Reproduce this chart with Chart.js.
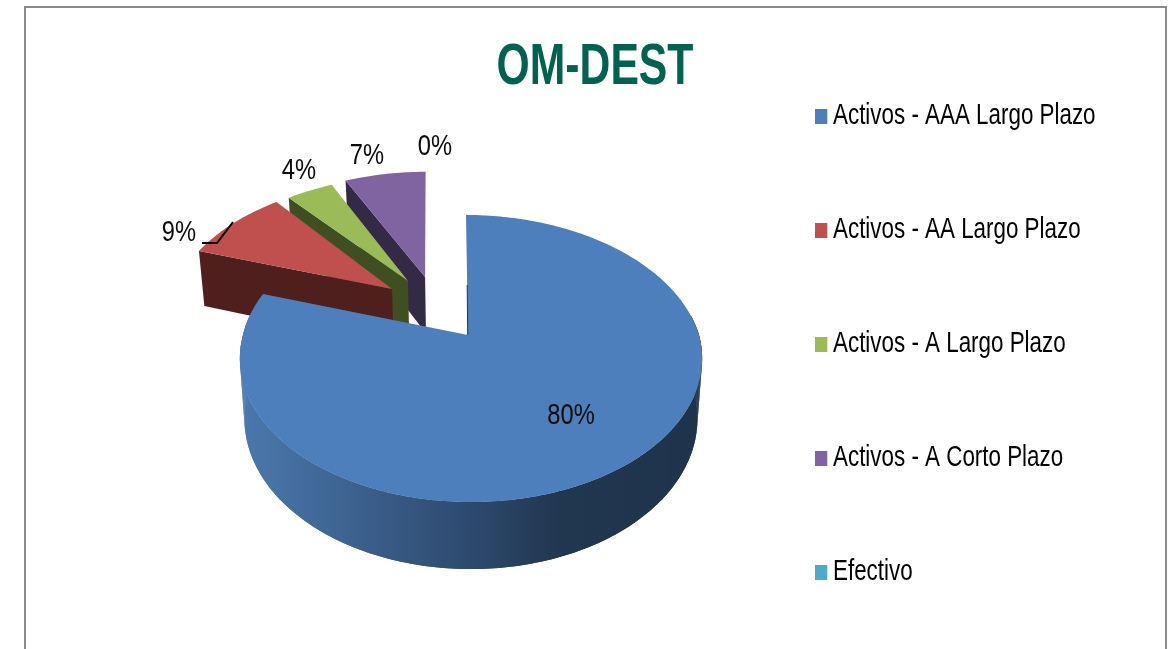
<!DOCTYPE html>
<html><head><meta charset="utf-8">
<script src="https://cdn.jsdelivr.net/npm/chart.js@4/dist/chart.umd.js"></script>
<style>
html,body{margin:0;padding:0;background:#fff;overflow:hidden;width:1168px;height:649px}
#frame{position:absolute;left:24px;top:6px;width:1139px;height:800px;border:2.5px solid #8a8a8a;box-sizing:content-box}
#c{position:absolute;left:26px;top:0;filter:blur(0.45px)}
</style></head><body>
<div id="frame"></div>
<canvas id="c" width="1138" height="900" style="width:1138px;height:900px"></canvas>
<script>
const categories = ['Activos - AAA Largo Plazo','Activos - AA Largo Plazo','Activos - A Largo Plazo','Activos - A Corto Plazo','Efectivo'];
const seriesValues = [80, 9, 4, 7, 0];
const titleText = 'OM-DEST';
const faceColors = ['#4c7fbc','#c0504d','#9bbb59','#8064a2','#4bacc6'];
const wallColors = [null,'#4f1f1d','#3f4f22','#352a45','#2a6070'];
const explode = [[0,0],[-0.358,-0.358],[-0.30,-0.40],[-0.23,-0.445],[0,0]];
const apexExplode = [[0,0],[-0.352,-0.348],[-0.281,-0.413],[-0.202,-0.445],[0,0]];
const labelAt = [[545,415.5],[153,233],[273,171],[341,156],[409,147]];
const leader = [[176,243],[191,243],[207,222]];
const FONT = '"Liberation Sans",sans-serif';
const SX_LEGEND = 0.772, SX_TITLE = 0.749, SX_LABEL = 0.79;

const P = {ax:442, ay:335, R:228, A:139.7, B:0.164};
function proj(theta, r, d, warp){
  const u = Math.sin(theta)*r + d[0], v = -Math.cos(theta)*r + d[1];
  const w = 1/(1-P.B*v);
  let x = P.ax + P.R*u*w;
  const y = P.ay + P.A*v*w;
  if(warp && r>0){ const c = Math.max(0,Math.cos(theta)); x += -2*c + 3*(1-c); }
  return {x, y, bx: P.ax+(x-P.ax)*0.98, by: y+59+40.5*(w-1)};
}
function boxImage(color){
  const c = document.createElement('canvas'); c.width = 18; c.height = 15;
  const g = c.getContext('2d'); g.fillStyle = color; g.fillRect(0,0,16.2,15);
  return c;
}
function squeeze(box, X, sx){
  if(!box || box._squeezed) return;
  const orig = box.draw.bind(box);
  box.draw = function(a){
    const ctx = box.ctx;
    ctx.save(); ctx.translate(X,0); ctx.scale(sx,1); ctx.translate(-X,0);
    orig(a);
    ctx.restore();
  };
  box._squeezed = true;
}
const pie3d = {
  id:'pie3d',
  afterLayout(chart){
    const l = chart.legend, pad = l.options.labels.padding;
    const itemX = 795.8;
    const left = itemX-pad, top = 116-14.5-pad;
    const w = l.width, h = l.height;
    l.left = left; l.top = top; l.right = left+w; l.bottom = top+h;
    squeeze(l, itemX, SX_LEGEND);
    squeeze(chart.titleBlock, chart.width/2, SX_TITLE);
  },
  beforeDatasetsDraw(chart){
    const ctx = chart.ctx, meta = chart.getDatasetMeta(0);
    const grad = ctx.createLinearGradient(219,0,661,0);
    grad.addColorStop(0,'#4a78ac'); grad.addColorStop(0.25,'#3c618e');
    grad.addColorStop(0.48,'#2f4c72'); grad.addColorStop(0.72,'#21364f'); grad.addColorStop(1,'#1f334c');
    for(let i = meta.data.length-1; i>=0; i--){
      const el = meta.data[i];
      if(!(el.endAngle-el.startAngle>0)) continue;
      const s = el.startAngle+Math.PI/2, e = el.endAngle+Math.PI/2;
      const d = explode[i], warp = i===0;
      const apex = proj(s,0,apexExplode[i],warp), rim = [];
      const n = Math.max(6,Math.round((e-s)/(Math.PI/180)));
      for(let k=0;k<=n;k++) rim.push(proj(s+(e-s)*k/n,1,d,warp));
      ctx.save();
      if(wallColors[i]){
        // the cut face turned towards the viewer
        ctx.fillStyle = wallColors[i];
        ctx.beginPath(); ctx.moveTo(apex.x,apex.y); ctx.lineTo(rim[0].x,rim[0].y);
        ctx.lineTo(rim[0].bx,rim[0].by); ctx.lineTo(apex.bx,apex.by); ctx.closePath(); ctx.fill();
      } else {
        // the outer wall of the slice that stays in place: only its front part shows
        const front = rim.filter(p=>p.y>apex.y-20);
        ctx.fillStyle = grad;
        ctx.beginPath();
        front.forEach((p,k)=> k? ctx.lineTo(p.x,p.y): ctx.moveTo(p.x,p.y));
        for(let k=front.length-1;k>=0;k--) ctx.lineTo(front[k].bx,front[k].by);
        ctx.closePath(); ctx.fill();
        // side wedges, where the outline is the tangent between top and bottom rim
        for(let k=0;k<front.length-1;k++){
          const a=front[k], b=front[k+1];
          ctx.beginPath(); ctx.moveTo(a.x,a.y); ctx.lineTo(b.x,b.y); ctx.lineTo(b.bx,b.by); ctx.lineTo(a.bx,a.by);
          ctx.closePath(); ctx.fill();
        }
      }
      ctx.beginPath(); ctx.moveTo(apex.x,apex.y);
      rim.forEach(p=>ctx.lineTo(p.x,p.y));
      ctx.closePath();
      ctx.fillStyle = el.options.backgroundColor; ctx.fill();
      if(!wallColors[i]){
        ctx.strokeStyle='#1f334c'; ctx.lineWidth=1;
        ctx.beginPath(); ctx.moveTo(apex.x-0.3,apex.y); ctx.lineTo(apex.x-0.8,apex.y-50); ctx.stroke();
      }
      ctx.restore();
    }
    return false;
  },
  afterDraw(chart){
    const ctx = chart.ctx;
    ctx.save();
    ctx.strokeStyle='#000'; ctx.lineWidth=2;
    ctx.beginPath(); leader.forEach((p,k)=>k?ctx.lineTo(p[0],p[1]):ctx.moveTo(p[0],p[1])); ctx.stroke();
    ctx.fillStyle='#0c0c0c'; ctx.font='30px '+FONT; ctx.textAlign='center'; ctx.textBaseline='middle';
    seriesValues.forEach((v,i)=>{
      ctx.save(); ctx.translate(labelAt[i][0],labelAt[i][1]); ctx.scale(SX_LABEL,1);
      ctx.fillText(v+'%',0,0); ctx.restore();
    });
    ctx.restore();
  }
};
new Chart(document.getElementById('c'),{
  type:'pie',
  data:{labels:categories,datasets:[{data:seriesValues,backgroundColor:faceColors,borderWidth:0}]},
  options:{
    responsive:false,animation:false,
    plugins:{
      tooltip:{enabled:false},
      title:{display:true,text:titleText,color:'#00634f',font:{family:FONT,size:57,weight:'bold',lineHeight:1.2},padding:{top:34,bottom:0}},
      legend:{display:true,position:'right',align:'start',
        labels:{color:'#0c0c0c',font:{family:FONT,size:29},usePointStyle:true,boxWidth:0.01,padding:85,
          generateLabels:()=>categories.map((text,i)=>({text,fillStyle:faceColors[i],strokeStyle:faceColors[i],lineWidth:0,pointStyle:boxImage(faceColors[i]),hidden:false,index:i}))
        }}
    }
  },
  plugins:[pie3d]
});
</script>
</body></html>
